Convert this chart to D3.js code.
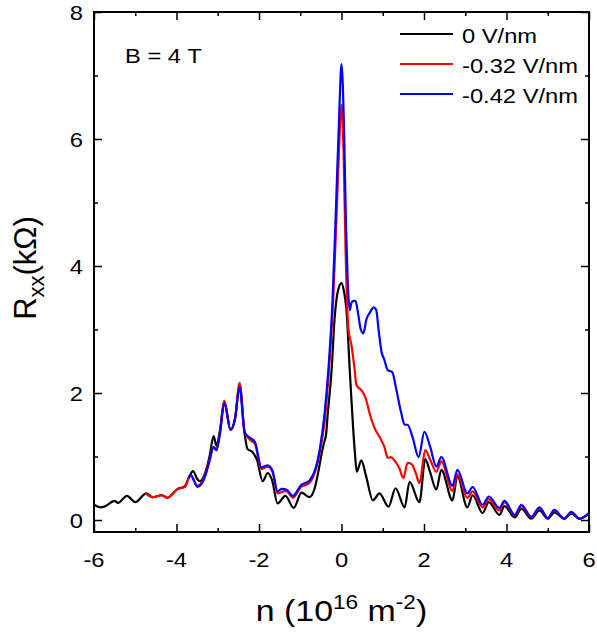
<!DOCTYPE html>
<html><head><meta charset="utf-8">
<script src="https://cdn.jsdelivr.net/npm/d3@7"></script>
<style>body{margin:0;background:#fff}svg{display:block}text{font-family:"Liberation Sans",Arial,sans-serif}</style>
</head><body><svg id="c" width="597" height="634"></svg>
<script>
// ---- data (n in 10^16 m^-2, Rxx in kΩ) ----
const nBlack = [-6.0,-5.85,-5.75,-5.5,-5.42,-5.2,-5.0,-4.73,-4.58,-4.36,-4.22,-3.97,-3.8,-3.68,-3.6,-3.5,-3.44,-3.3,-3.2,-3.1,-3.03,-2.95,-2.84,-2.69,-2.58,-2.47,-2.35,-2.28,-2.16,-2.05,-1.91,-1.79,-1.68,-1.55,-1.36,-1.16,-0.97,-0.78,-0.65,-0.55,-0.48,-0.43,-0.37,-0.34,-0.24,-0.17,-0.09,0.0,0.06,0.12,0.2,0.32,0.37,0.48,0.6,0.76,0.92,1.14,1.31,1.53,1.65,1.89,2.03,2.15,2.3,2.42,2.69,2.81,3.05,3.18,3.42,3.57,3.83,3.95,4.2,4.36,4.6,4.8,5.0,5.16,5.4,5.57,5.77,6.0];
const rBlack = [0.24,0.2,0.21,0.3,0.27,0.38,0.28,0.42,0.36,0.39,0.35,0.49,0.53,0.7,0.77,0.65,0.61,0.75,1.0,1.32,1.17,1.4,1.86,1.42,1.6,2.13,1.37,1.12,1.07,0.95,0.61,0.74,0.62,0.26,0.38,0.19,0.43,0.36,0.5,0.8,1.05,1.2,1.37,1.62,2.36,3.15,3.6,3.73,3.6,3.31,2.36,1.1,0.76,0.94,0.68,0.31,0.42,0.21,0.5,0.2,0.6,0.28,0.96,0.75,0.48,0.79,0.31,0.69,0.2,0.39,0.11,0.28,0.08,0.22,0.04,0.18,0.02,0.15,0.02,0.12,0.02,0.1,0.02,0.1];

const nRed = [-4.75,-4.58,-4.36,-4.22,-3.97,-3.8,-3.7,-3.66,-3.49,-3.3,-3.2,-3.1,-3.03,-2.95,-2.84,-2.69,-2.58,-2.47,-2.35,-2.23,-2.1,-1.94,-1.79,-1.67,-1.55,-1.34,-1.18,-0.98,-0.78,-0.6,-0.53,-0.41,-0.29,-0.2,-0.12,-0.05,0.0,0.05,0.1,0.17,0.24,0.32,0.36,0.51,0.6,0.68,0.8,0.92,1.04,1.12,1.2,1.28,1.4,1.5,1.6,1.7,1.8,1.89,2.03,2.15,2.3,2.42,2.69,2.81,3.05,3.18,3.42,3.57,3.83,3.95,4.2,4.36,4.6,4.8,5.0,5.16,5.4,5.57,5.77,6.0];
const rRed = [0.42,0.36,0.39,0.35,0.49,0.52,0.66,0.71,0.54,0.72,0.95,1.15,1.1,1.35,1.88,1.42,1.6,2.16,1.4,1.27,1.2,0.8,0.84,0.75,0.42,0.46,0.35,0.52,0.58,0.85,1.05,1.55,2.5,3.5,4.8,6.0,6.54,5.8,4.2,2.99,2.76,2.36,2.13,2.02,1.89,1.68,1.45,1.31,1.15,0.98,0.99,0.94,0.82,0.66,0.9,0.88,0.74,0.58,1.1,0.95,0.76,0.92,0.46,0.72,0.35,0.45,0.2,0.33,0.15,0.28,0.07,0.22,0.04,0.19,0.03,0.15,0.02,0.12,0.02,0.11];

const nBlue = [-3.7,-3.66,-3.49,-3.3,-3.2,-3.1,-3.03,-2.95,-2.84,-2.69,-2.58,-2.47,-2.35,-2.23,-2.1,-1.94,-1.79,-1.67,-1.55,-1.45,-1.34,-1.18,-0.98,-0.78,-0.6,-0.53,-0.41,-0.29,-0.22,-0.14,-0.06,0.0,0.06,0.11,0.15,0.2,0.24,0.3,0.34,0.4,0.46,0.53,0.6,0.7,0.78,0.84,0.9,0.97,1.04,1.12,1.23,1.33,1.45,1.53,1.6,1.72,1.87,2.01,2.15,2.3,2.42,2.69,2.81,3.05,3.18,3.42,3.57,3.83,3.95,4.2,4.36,4.6,4.8,5.0,5.16,5.4,5.57,5.77,6.0];
const rBlue = [0.66,0.71,0.52,0.7,0.93,1.15,1.1,1.35,1.84,1.42,1.6,2.1,1.38,1.3,1.23,0.83,0.86,0.77,0.45,0.49,0.48,0.38,0.55,0.62,0.88,1.1,1.68,2.63,3.42,4.8,6.3,7.18,6.2,4.6,3.78,3.3,3.42,3.45,3.45,3.26,3.02,2.94,3.15,3.28,3.35,3.31,2.99,2.65,2.52,2.36,2.33,2.05,1.68,1.5,1.5,1.31,0.99,1.39,1.15,0.84,0.99,0.54,0.79,0.42,0.52,0.24,0.37,0.19,0.3,0.08,0.24,0.05,0.2,0.03,0.16,0.02,0.13,0.02,0.11];

const seriesNames = ["0 V/nm","-0.32 V/nm","-0.42 V/nm"];
const seriesColors = ["#000000","#ff0000","#0000ff"];
const xTicks = [-6,-4,-2,0,2,4,6];
const yTicks = [0,2,4,6,8];

// ---- layout ----
const svg = d3.select("#c");
const L=94, R=589, T=12, B=532;
const x = d3.scaleLinear().domain([-6,6]).range([L,R]);
const y = d3.scaleLinear().domain([(520-532)/63.5,8]).range([B,T]);
const SX = 1.13; // horizontal text stretch seen in the reference

function txt(parent, px, py, size, anchor){
  return parent.append("text")
    .attr("transform",`translate(${px},${py}) scale(${SX},1)`)
    .attr("font-size",size).attr("text-anchor",anchor||"start");
}

const series = [
  {n:nBlack, r:rBlack},
  {n:nRed, r:rRed},
  {n:nBlue, r:rBlue}
];

svg.append("clipPath").attr("id","clip").append("rect")
  .attr("x",L).attr("y",T).attr("width",R-L).attr("height",B-T);

const line = d3.line().x(d=>x(d[0])).y(d=>y(d[1])).curve(d3.curveMonotoneX);
const g = svg.append("g").attr("clip-path","url(#clip)");
series.forEach((s,i)=>{
  g.append("path").datum(d3.zip(s.n,s.r))
   .attr("d",line).attr("fill","none").attr("stroke",seriesColors[i])
   .attr("stroke-width",2.2).attr("stroke-linejoin","round");
});

// ---- axes (ticks inward, mirrored) ----
const fs = 21;
function mk(axis){return axis.tickSizeOuter(0);}
const minX = d3.range(-5,6,2), minY=[1,3,5,7];
svg.append("g").attr("transform",`translate(0,${B})`).call(mk(d3.axisTop(x).tickValues(xTicks).tickSize(8).tickFormat("")));
svg.append("g").attr("transform",`translate(0,${B})`).call(mk(d3.axisTop(x).tickValues(minX).tickSize(4).tickFormat("")));
svg.append("g").attr("transform",`translate(0,${T})`).call(mk(d3.axisBottom(x).tickValues(xTicks).tickSize(8).tickFormat("")));
svg.append("g").attr("transform",`translate(0,${T})`).call(mk(d3.axisBottom(x).tickValues(minX).tickSize(4).tickFormat("")));
svg.append("g").attr("transform",`translate(${L},0)`).call(mk(d3.axisRight(y).tickValues(yTicks).tickSize(8).tickFormat("")));
svg.append("g").attr("transform",`translate(${L},0)`).call(mk(d3.axisRight(y).tickValues(minY).tickSize(4).tickFormat("")));
svg.append("g").attr("transform",`translate(${R},0)`).call(mk(d3.axisLeft(y).tickValues(yTicks).tickSize(8).tickFormat("")));
svg.append("g").attr("transform",`translate(${R},0)`).call(mk(d3.axisLeft(y).tickValues(minY).tickSize(4).tickFormat("")));
svg.selectAll(".domain").remove();
svg.selectAll(".tick line").attr("stroke","#000").attr("stroke-width",1.5);

// frame
svg.append("rect").attr("x",L).attr("y",T).attr("width",R-L).attr("height",B-T)
  .attr("fill","none").attr("stroke","#000").attr("stroke-width",2);

// tick labels
const xl = svg.append("g");
xTicks.forEach(d=>txt(xl, x(d), B+35, fs, "middle").text(d));
const yl = svg.append("g");
yTicks.forEach(d=>txt(yl, L-11, y(d)+7.5, fs, "end").text(d));

// axis titles
const xt = txt(svg, x(0), 621, 30, "middle");
xt.append("tspan").text("n (10");
xt.append("tspan").attr("dy",-12).attr("font-size",20).text("16");
xt.append("tspan").attr("dy",12).text(" m");
xt.append("tspan").attr("dy",-12).attr("font-size",20).text("-2");
xt.append("tspan").attr("dy",12).text(")");

const yt = svg.append("text").attr("transform",`translate(36,${(T+B)/2-4}) rotate(-90)`)
  .attr("text-anchor","middle").attr("font-size",31);
yt.append("tspan").text("R");
yt.append("tspan").attr("dy",8).attr("font-size",22).text("xx");
yt.append("tspan").attr("dy",-8).text("(kΩ)");

// annotation
txt(svg, 125, 63, fs).text("B = 4 T");

// legend
const legY = [34,64,94];
seriesNames.forEach((name,i)=>{
  svg.append("line").attr("x1",400).attr("x2",453).attr("y1",legY[i]).attr("y2",legY[i])
    .attr("stroke",seriesColors[i]).attr("stroke-width",2);
  txt(svg, 462, legY[i]+8.5, fs).text(name);
});
</script></body></html>
